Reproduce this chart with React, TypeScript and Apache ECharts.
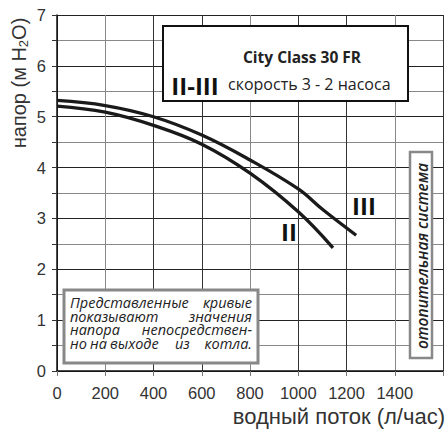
import React, { useEffect, useRef } from "react";
import * as echarts from "echarts";

const xTicks = [0, 200, 400, 600, 800, 1000, 1200, 1400, 1600];
const curveII: [number, number][] = [
  [0, 5.21], [200, 5.09], [400, 4.83], [600, 4.46], [800, 3.89], [1000, 3.13], [1144, 2.42],
];
const curveIII: [number, number][] = [
  [0, 5.32], [200, 5.22], [400, 5.0], [600, 4.64], [800, 4.15], [1000, 3.58], [1100, 3.18], [1240, 2.67],
];
const title = "City Class 30 FR";
const legendText = "скорость 3 - 2 насоса";
const sideText = "отопительная система";
const noteLines = [
  ["Представленные", "кривые"],
  ["показывают", "значения"],
  ["напора", "непосредствен-"],
  ["но", "на", "выходе", "из", "котла."],
];
// word box widths (px) used to justify each line of the note to 182px
const noteWidths = [
  [122, 60],
  [100, 82],
  [60, 122],
  [20, 20, 65, 23, 54],
];

export default function App() {
  const ref = useRef<HTMLDivElement>(null);
  useEffect(() => {
    if (!ref.current) return;
    const chart = echarts.init(ref.current, null, { renderer: "svg" });
    const font = { fontFamily: "Open Sans", fontStyle: "italic", fontSize: 14.5, lineHeight: 13.5, fill: "#222" };
    const rich: any = {};
    const lines = noteLines.map((words, i) =>
      words
        .map((w, j) => {
          const key = `w${i}_${j}`;
          const isLast = j === words.length - 1;
          rich[key] = { ...font, width: noteWidths[i][j], align: isLast ? "right" : "left" };
          return `{${key}|${w}}`;
        })
        .join("")
    );
    const option: any = {
      animation: false,
      grid: { left: 57, top: 15, right: 0, bottom: 61 },
      xAxis: {
        type: "value", min: 0, max: 1600, interval: 200,
        axisLine: { lineStyle: { color: "#111", width: 1.5 } },
        axisTick: { show: true, length: 5, lineStyle: { color: "#777" } },
        axisLabel: { fontSize: 16.5, color: "#333", margin: 13, fontFamily: "Liberation Sans",
          formatter: (v: number) => (v === 1600 ? "" : String(v)) },
        splitLine: { show: true, lineStyle: { color: ["#333", "#888", "#333", "#333", "#888", "#333", "#333", "#888", "#333"], width: 1 } },
      },
      yAxis: {
        type: "value", min: 0, max: 7, interval: 0.5,
        axisLine: { show: true, lineStyle: { color: "#111", width: 1.5 } },
        axisTick: { show: true, length: 5, lineStyle: { color: "#333" } },
        axisLabel: { fontSize: 16.5, color: "#333", margin: 11, fontFamily: "Liberation Sans",
          formatter: (v: number) => (Number.isInteger(v) ? String(v) : "") },
        splitLine: { show: true, lineStyle: { color: ["#222", "#888"], width: 1 } },
      },
      series: [
        { type: "line", name: "II", data: curveII, smooth: 0.4, showSymbol: false, lineStyle: { color: "#1a1a1a", width: 3.3 } },
        { type: "line", name: "III", data: curveIII, smooth: 0.4, showSymbol: false, lineStyle: { color: "#1a1a1a", width: 3.3 } },
      ],
      graphic: [
        { type: "rect", shape: { x: 163, y: 26, width: 245, height: 75 }, z: 10, style: { fill: "#fff", stroke: "#111", lineWidth: 2 } },
        { type: "text", x: 302, y: 57, z: 11, style: { text: title, fontFamily: "Open Sans", fontWeight: "bold", fontSize: 15.5, fill: "#222", align: "center", verticalAlign: "middle" } },
        { type: "text", x: 195, y: 85, z: 11, style: { text: "II-III", fontFamily: "Open Sans", fontWeight: "bold", fontSize: 24, fill: "#111", align: "center", verticalAlign: "middle" } },
        { type: "text", x: 228, y: 84, z: 11, style: { text: legendText, fontFamily: "Open Sans", fontSize: 16, fill: "#222", align: "left", verticalAlign: "middle" } },
        { type: "rect", shape: { x: 410, y: 152, width: 22, height: 206 }, z: 10, style: { fill: "#fff", stroke: "#888", lineWidth: 2.5 } },
        { type: "text", x: 422, y: 256, rotation: Math.PI / 2, z: 11, style: { text: sideText, fontFamily: "Open Sans", fontStyle: "italic", fontWeight: 600, fontSize: 15.5, fill: "#222", align: "center", verticalAlign: "middle" } },
        { type: "rect", shape: { x: 64, y: 290, width: 194, height: 73 }, z: 10, style: { fill: "#fff", stroke: "#888", lineWidth: 3 } },
        { type: "text", x: 70, y: 296, z: 20, style: { text: lines.join("\n"), ...font, rich, align: "left", verticalAlign: "top" } },
        { type: "text", x: 289, y: 231, z: 11, style: { text: "II", fontFamily: "Open Sans", fontWeight: "bold", fontSize: 24, fill: "#111", align: "center", verticalAlign: "middle" } },
        { type: "text", x: 364, y: 205, z: 11, style: { text: "III", fontFamily: "Open Sans", fontWeight: "bold", fontSize: 24, fill: "#111", align: "center", verticalAlign: "middle" } },
        { type: "text", x: 19, y: 83, rotation: Math.PI / 2, z: 11, style: {
          text: "{a|напор (м H}{s|2}{a|O)}", align: "center", verticalAlign: "middle",
          rich: { a: { fontFamily: "Liberation Sans", fontSize: 20, fill: "#333" }, s: { fontFamily: "Liberation Sans", fontSize: 13, fill: "#333", padding: [9, 0, 0, 0] } } } },
        { type: "text", x: 445, y: 416, z: 11, style: { text: "водный поток (л/час)", fontFamily: "Liberation Sans", fontSize: 22, fill: "#333", align: "right", verticalAlign: "middle" } },
      ],
    };
    chart.setOption(option);
    return () => chart.dispose();
  }, []);
  return <div ref={ref} style={{ position: "absolute", left: 0, top: 0, width: 446, height: 432 }} />;
}
